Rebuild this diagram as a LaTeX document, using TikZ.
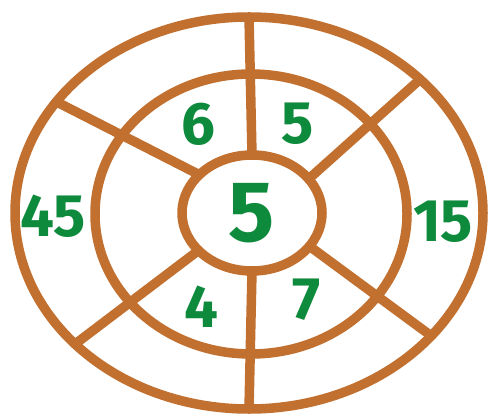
\documentclass[tikz,border=0pt]{standalone}
\usepackage{fontspec}
\setmainfont{Fira Sans}
\usetikzlibrary{shapes.geometric}
\definecolor{ringBrown}{HTML}{C2702F}
\definecolor{digitGreen}{HTML}{0E8A3C}
\begin{document}
\begin{tikzpicture}[x=1pt,y=-1pt,line cap=round,line join=round]
\path[fill=white] (0,0) rectangle (489,419);
\tikzset{ring/.style={ellipse,draw=ringBrown,line width=9.5pt,inner sep=0pt,outer sep=0pt},spoke/.style={draw=ringBrown,line width=9.5pt},num/.style={text=digitGreen,font=\fontsize{60}{60}\selectfont\bfseries,inner sep=0pt}}
% the three rings
\node[ring,minimum width=468pt,minimum height=392pt] (outer) at (249,213) {};
\node[ring,minimum width=312pt,minimum height=280pt] (middle) at (251,214) {};
\node[ring,minimum width=140pt,minimum height=116pt,text=digitGreen,font=\fontsize{86}{86}\selectfont\bfseries] (inner) at (252,213) {5};
% spokes
\draw[spoke] (inner.90) -- (outer.90);
\draw[spoke] (inner.270) -- (outer.270);
\draw[spoke] (inner.144) -- (outer.150);
\draw[spoke] (inner.31) -- (outer.38);
\draw[spoke] (inner.215) -- (outer.217);
\draw[spoke] (inner.330) -- (outer.326);
% numbers
\node[num] (sixTop) at (198,124) {6};
\node[num] (fiveTop) at (298,124) {5};
\node[num] (fortyFive) at (53,216) {45};
\node[num] (fifteen) at (443,222) {15};
\node[num] (fourBot) at (201,307) {4};
\node[num] (sevenBot) at (307,300) {7};
\end{tikzpicture}
\end{document}
